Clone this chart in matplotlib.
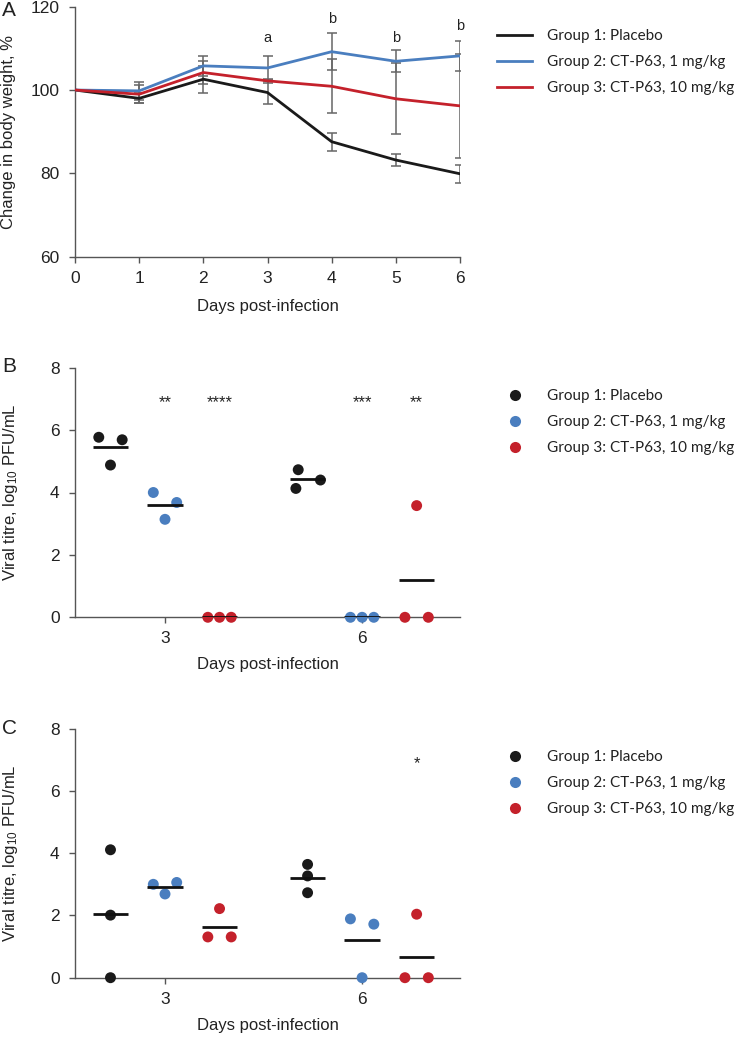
import matplotlib
matplotlib.use('Agg')
import matplotlib.pyplot as plt
from matplotlib.lines import Line2D
import numpy as np

plt.rcParams['font.family'] = ['Liberation Sans', 'DejaVu Sans']
plt.rcParams['mathtext.default'] = 'regular'

# ---------------- data ----------------
group_labels = ['Group 1: Placebo', 'Group 2: CT-P63, 1 mg/kg', 'Group 3: CT-P63, 10 mg/kg']

# Panel A: body weight change (%)
days_a = [0, 1, 2, 3, 4, 5, 6]
placebo_mean = [100, 98.0, 102.6, 99.4, 87.6, 83.2, 79.9]
placebo_err = [0, 1.2, 3.2, 2.8, 2.2, 1.4, 2.2]
low_mean = [100, 99.8, 105.8, 105.3, 109.2, 106.9, 108.2]
low_err = [0, 2.2, 2.4, 2.9, 4.5, 2.6, 3.6]
high_mean = [100, 99.0, 104.2, 102.2, 100.9, 97.9, 96.2]
high_err = [0, 2.2, 2.8, 0.4, 6.5, 8.5, 12.4]
sig_days_a = [3, 4, 5, 6]
sig_letters_a = ['a', 'b', 'b', 'b']
sig_y_a = [112.4, 117.0, 112.6, 115.4]

# Panel B: viral titre (log10 PFU/mL), days 3 and 6
titre_days = [3, 6]
b_placebo_d3 = [5.77, 4.88, 5.69]
b_low_d3 = [4.00, 3.14, 3.68]
b_high_d3 = [0, 0, 0]
b_placebo_d6 = [4.73, 4.13, 4.40]
b_low_d6 = [0, 0, 0]
b_high_d6 = [0, 3.58, 0]
b_stars = ['**', '****', '***', '**']
b_star_group = [1, 2, 1, 2]
b_star_day = [3, 3, 6, 6]
b_star_y = 6.89

# Panel C: viral titre (log10 PFU/mL), days 3 and 6
c_placebo_d3 = [4.11, 2.01, 0]
c_low_d3 = [3.00, 2.69, 3.06]
c_high_d3 = [1.31, 2.22, 1.31]
c_placebo_d6 = [3.64, 3.27, 2.73]
c_low_d6 = [1.89, 0, 1.72]
c_high_d6 = [0, 2.04, 0]
c_stars = ['*']
c_star_group = [2]
c_star_day = [6]
c_star_y = 6.89

# ---------------- layout / style ----------------
W, H = 735, 1037
colors = ['#1a1a1a', '#4a7ebf', '#c4212b']
axis_col = '#555555'
text_col = '#222222'
GROUP_OFF = 0.83
JIT = 0.178
MEAN_HALF = 0.27

b_jit = [[-1, 0, 1], [-1, 0, 1], [-1, 0, 1],
         [-0.8, -1, 1.1], [-1, 0, 1], [-1, 0, 1]]
c_jit = [[0, 0, 0], [-1, 0, 1], [-1, 0, 1],
         [0, 0, 0], [-1, 0, 1], [-1, 0, 1]]

fig = plt.figure(figsize=(W / 100, H / 100), dpi=100)


def ax_rect(left, top, right, bottom):
    return [left / W, 1 - bottom / H, (right - left) / W, (bottom - top) / H]


def style_axes(ax):
    for s in ['top', 'right']:
        ax.spines[s].set_visible(False)
    for s in ['left', 'bottom']:
        ax.spines[s].set_color(axis_col)
        ax.spines[s].set_linewidth(1.0)
    ax.tick_params(direction='out', length=4, width=1.0, color=axis_col,
                   labelsize=12.5, labelcolor=text_col)
    ax.tick_params(axis='y', pad=7)
    ax.tick_params(axis='x', pad=6)


def add_legend(ax, handles, top_px):
    ax.legend(handles=handles, loc='upper left',
              bbox_to_anchor=(497 / W, 1 - top_px / H),
              bbox_transform=fig.transFigure, frameon=False,
              prop={'family': 'Lato', 'size': 11.0},
              labelcolor=text_col, handlelength=2.3, handletextpad=1.0,
              labelspacing=0.8, borderpad=0, borderaxespad=0)


# ---------- Panel A ----------
axA = fig.add_axes(ax_rect(75, 6.7, 460, 256.7))
style_axes(axA)
series_a = [(placebo_mean, placebo_err), (low_mean, low_err), (high_mean, high_err)]
for (m, e), c in zip(series_a, colors):
    # day 0 is the baseline (no error bar)
    axA.errorbar(days_a[1:], m[1:], yerr=e[1:], fmt='none', ecolor='#666666', elinewidth=1.1,
                 capsize=3.3, capthick=1.1, zorder=1)
handles_a = []
for (m, e), c, lab in zip(series_a, colors, group_labels):
    ln, = axA.plot(days_a, m, color=c, lw=2.0, zorder=3, label=lab)
    handles_a.append(ln)
for d, l, y in zip(sig_days_a, sig_letters_a, sig_y_a):
    axA.text(d, y, l, ha='center', va='center', fontsize=10.5, color=text_col)
axA.set_xlim(0, 6)
axA.set_ylim(60, 120)
axA.set_xticks(days_a)
axA.set_yticks([60, 80, 100, 120])
axA.set_xlabel('Days post-infection', fontsize=12, color=text_col, labelpad=10)
axA.set_ylabel('Change in body weight, %', fontsize=12, color=text_col, va='center')
axA.yaxis.set_label_coords((9 - 75) / 385, 0.5)
add_legend(axA, handles_a, 29)
fig.text(2 / W, 1 - 10 / H, 'A', fontsize=15, ha='left', va='center', color=text_col)


# ---------- Panels B & C ----------
def titre_panel(rect, sets, jits, stars, star_groups, star_days, star_y, letter, letter_y, legend_top):
    ax = fig.add_axes(rect)
    style_axes(ax)
    idx = 0
    for d in titre_days:
        for g in range(3):
            vals = sets[idx]
            xc = d + (g - 1) * GROUP_OFF
            xs = [xc + j * JIT for j in jits[idx]]
            ax.scatter(xs, vals, s=62, color=colors[g], edgecolors='none', zorder=3, clip_on=False)
            ax.hlines(np.mean(vals), xc - MEAN_HALF, xc + MEAN_HALF, color='#111111', lw=2.0, zorder=4)
            idx += 1
    for s, g, d in zip(stars, star_groups, star_days):
        ax.text(d + (g - 1) * GROUP_OFF, star_y, s, ha='center', va='center',
                fontsize=12, color=text_col)
    ax.set_xlim(1.63, 7.49)
    ax.set_ylim(0, 8)
    ax.set_xticks(titre_days)
    ax.set_yticks([0, 2, 4, 6, 8])
    ax.set_xlabel('Days post-infection', fontsize=12, color=text_col, labelpad=8)
    ax.set_ylabel('Viral titre, log$_{10}$ PFU/mL', fontsize=12, color=text_col, va='center')
    ax.yaxis.set_label_coords((10.5 - 75) / 385, 0.5)
    handles = [Line2D([], [], ls='none', marker='o', markersize=8, color=c,
                      markeredgewidth=0, label=lab) for c, lab in zip(colors, group_labels)]
    add_legend(ax, handles, legend_top)
    fig.text(2 / W, 1 - letter_y / H, letter, fontsize=15, ha='left', va='center', color=text_col)
    return ax


titre_panel(ax_rect(75, 367.7, 460, 617.3),
            [b_placebo_d3, b_low_d3, b_high_d3, b_placebo_d6, b_low_d6, b_high_d6],
            b_jit, b_stars, b_star_group, b_star_day, b_star_y, 'B', 367, 389)
titre_panel(ax_rect(75, 728.7, 460, 977.7),
            [c_placebo_d3, c_low_d3, c_high_d3, c_placebo_d6, c_low_d6, c_high_d6],
            c_jit, c_stars, c_star_group, c_star_day, c_star_y, 'C', 729, 750)

fig.savefig('out.png', dpi=100)
